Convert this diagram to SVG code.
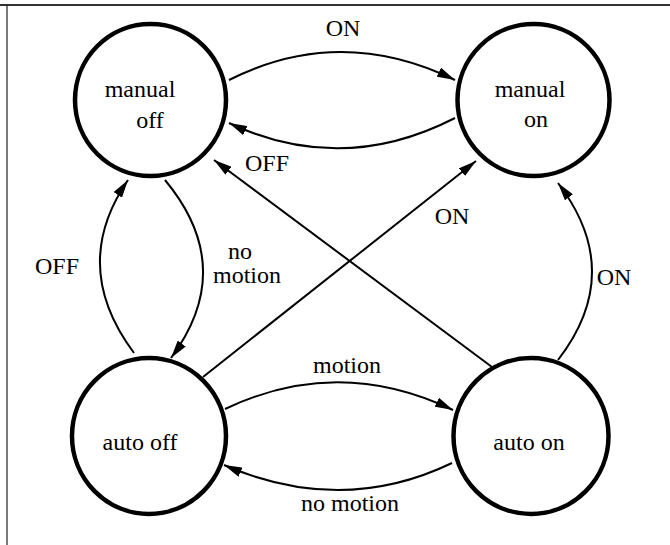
<svg xmlns="http://www.w3.org/2000/svg" width="670" height="545" viewBox="0 0 670 545">
  <style>
    .state { fill: #fff; stroke: #000; stroke-width: 4.5; }
    .edge { fill: none; stroke: #000; stroke-width: 2; marker-end: url(#arrow); }
    .label { fill: #000; text-anchor: middle; font-family: 'Liberation Serif', serif; font-size: 24px; }
  </style>
  <defs>
    <marker id="arrow" viewBox="0 0 18 10" refX="18" refY="5" markerWidth="18" markerHeight="10" markerUnits="userSpaceOnUse" orient="auto">
      <path d="M0,0 L18,5 L0,10 Z" fill="#000"/>
    </marker>
  </defs>

  <rect width="670" height="545" fill="#fff"/>
  <!-- page frame: top and left rules -->
  <path d="M0,5 H670" stroke="#333" stroke-width="2" fill="none"/>
  <path d="M7,5 V545" stroke="#222" stroke-width="1.2" fill="none"/>

  <g id="connectors">
    <!-- manual off -> manual on : ON -->
    <path class="edge" d="M229,80 Q340,24 455,80"/>
    <!-- manual on -> manual off : OFF -->
    <path class="edge" d="M455,118 Q342,176 229,123"/>
    <!-- auto on -> manual off : OFF -->
    <path class="edge" d="M492,367 L214,160"/>
    <!-- auto off -> manual on : ON -->
    <path class="edge" d="M203,377 L476,161"/>
    <!-- auto off -> manual off : OFF -->
    <path class="edge" d="M134,353 Q69,266 128,180"/>
    <!-- manual off -> auto off : no motion -->
    <path class="edge" d="M165,180 Q238,268 171,358"/>
    <!-- auto on -> manual on : ON -->
    <path class="edge" d="M558,360 Q626,272 558,183"/>
    <!-- auto off -> auto on : motion -->
    <path class="edge" d="M225,409 Q338,355 453,410"/>
    <!-- auto on -> auto off : no motion -->
    <path class="edge" d="M452,463 Q342,516 224,465"/>
  </g>

  <g id="edge-labels">
    <text class="label" x="343" y="36">ON</text>
    <text class="label" x="267" y="171">OFF</text>
    <text class="label" x="452" y="224">ON</text>
    <text class="label" x="57" y="274">OFF</text>
    <text class="label" x="240" y="259">no</text>
    <text class="label" x="247" y="283">motion</text>
    <text class="label" x="614" y="285">ON</text>
    <text class="label" x="347" y="373">motion</text>
    <text class="label" x="350" y="511">no motion</text>
  </g>

  <g id="manual-off">
    <ellipse class="state" cx="150.5" cy="100" rx="75.5" ry="76"/>
    <text class="label" x="140" y="97">manual</text>
    <text class="label" x="150" y="128">off</text>
  </g>
  <g id="manual-on">
    <ellipse class="state" cx="533.5" cy="100" rx="76" ry="76"/>
    <text class="label" x="530" y="97">manual</text>
    <text class="label" x="536" y="127">on</text>
  </g>
  <g id="auto-off">
    <ellipse class="state" cx="149" cy="436" rx="77" ry="78"/>
    <text class="label" x="140" y="450">auto off</text>
  </g>
  <g id="auto-on">
    <ellipse class="state" cx="531" cy="436" rx="77.5" ry="78"/>
    <text class="label" x="529" y="450">auto on</text>
  </g>
</svg>
